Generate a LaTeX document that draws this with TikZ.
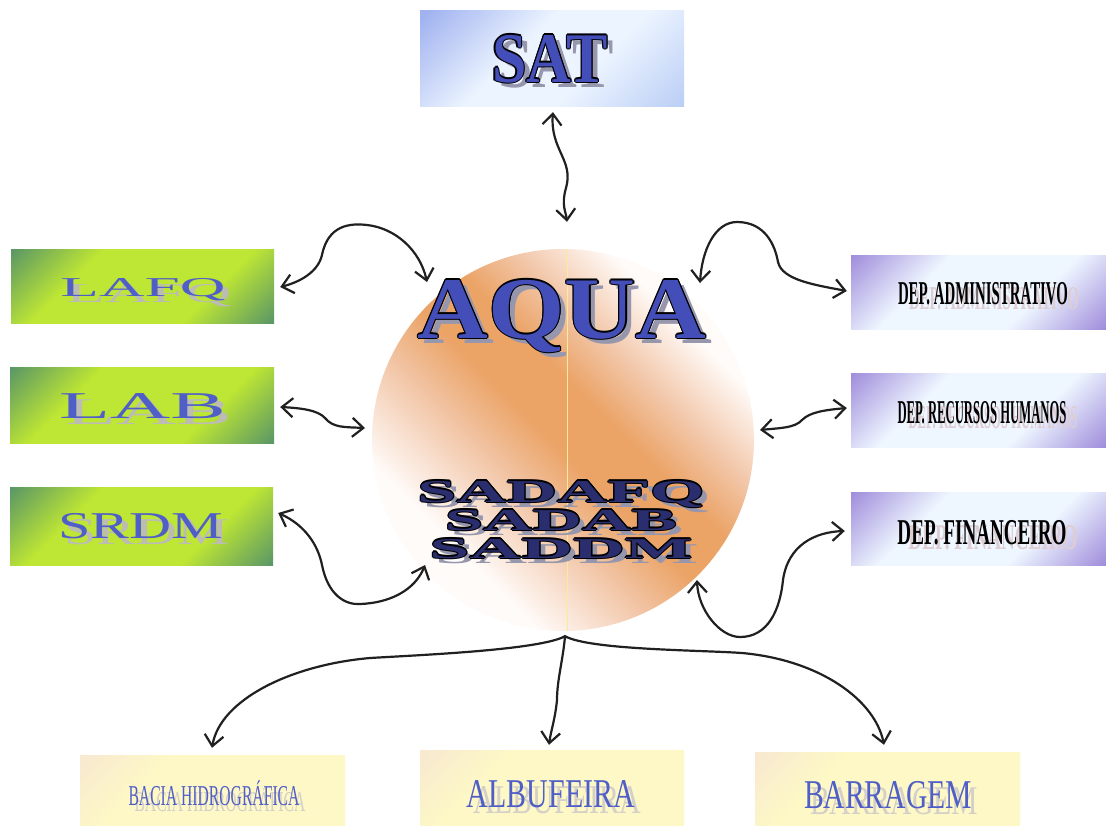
\documentclass[tikz,border=0pt]{standalone}
\usepackage{fontspec}
\setmainfont{Liberation Serif}
\usetikzlibrary{arrows.meta}

\definecolor{gdark}{RGB}{76,140,108}
\definecolor{glime}{RGB}{190,230,52}
\definecolor{pdark}{RGB}{150,128,215}
\definecolor{plight}{RGB}{238,246,255}
\definecolor{sblue}{RGB}{160,178,240}
\definecolor{slight}{RGB}{236,244,255}
\definecolor{sblue2}{RGB}{185,205,245}
\definecolor{ypale}{RGB}{253,248,198}
\definecolor{ypink}{RGB}{247,230,210}
\definecolor{owhite}{RGB}{255,251,249}
\definecolor{opeach}{RGB}{242,198,168}
\definecolor{oorange}{RGB}{235,163,102}
\definecolor{inkblue}{RGB}{80,94,200}
\definecolor{deepblue}{RGB}{68,78,185}
\definecolor{navy}{RGB}{42,46,110}
\definecolor{ghost}{RGB}{188,188,180}
\definecolor{ghostlight}{RGB}{212,208,200}
\definecolor{ghostblue}{RGB}{150,150,172}
\definecolor{ghostpink}{RGB}{222,206,212}
\definecolor{arrowink}{RGB}{32,32,32}
\definecolor{seam}{RGB}{250,236,150}

% diagonal fades: corners tinted, middle light
\pgfdeclarehorizontalshading{greenfade}{100bp}{color(0bp)=(gdark); color(12bp)=(gdark); color(34bp)=(glime); color(66bp)=(glime); color(88bp)=(gdark); color(100bp)=(gdark)}
\pgfdeclarehorizontalshading{violetfade}{100bp}{color(0bp)=(pdark); color(12bp)=(pdark); color(36bp)=(plight); color(64bp)=(plight); color(88bp)=(pdark); color(100bp)=(pdark)}
\pgfdeclarehorizontalshading{skyfade}{100bp}{color(0bp)=(sblue); color(16bp)=(sblue); color(42bp)=(slight); color(60bp)=(slight); color(86bp)=(sblue2); color(100bp)=(sblue2)}
\pgfdeclarehorizontalshading{creamfade}{100bp}{color(0bp)=(ypink); color(12bp)=(ypink); color(34bp)=(ypale); color(100bp)=(ypale)}
\pgfdeclarehorizontalshading{peachdisc}{100bp}{color(0bp)=(owhite); color(30bp)=(owhite); color(41bp)=(opeach); color(49bp)=(oorange); color(56bp)=(oorange); color(63bp)=(opeach); color(72bp)=(owhite); color(100bp)=(owhite)}

% text stretched to a given width and cap height
\newcommand\capfit[3]{\resizebox{#1}{#2}{\vphantom{A}\smash{#3}}}
% an extra copy of some lettering, shifted by (#1,#2)
\newcommand\layercopy[3]{\rlap{\kern#1\raisebox{#2}{#3}}}

% bold lettering with a dark rim and a grey drop shadow
\newcommand\rimtext[5]{%
  \def\glyphs{\capfit{#1}{#2}{\bfseries #3}}%
  \layercopy{6pt}{-5pt}{\color{#5}\glyphs}%
  \layercopy{-1.3pt}{0pt}{\glyphs}\layercopy{1.3pt}{0pt}{\glyphs}%
  \layercopy{0pt}{-1.3pt}{\glyphs}\layercopy{0pt}{1.3pt}{\glyphs}%
  \layercopy{-0.9pt}{-0.9pt}{\glyphs}\layercopy{0.9pt}{-0.9pt}{\glyphs}%
  \layercopy{-0.9pt}{0.9pt}{\glyphs}\layercopy{0.9pt}{0.9pt}{\glyphs}%
  {\color{#4}\glyphs}}

% plain lettering with a pale ghost behind it
\newcommand\ghosttext[7]{%
  \layercopy{#6}{#7}{\color{#5}\capfit{#1}{#2}{#3}}%
  {\color{#4}\capfit{#1}{#2}{#3}}}

\tikzset{
  box/.style={rectangle, inner sep=0pt, draw=none},
  greenbox/.style={box, shading=greenfade, shading angle=-45},
  violetbox/.style={box, shading=violetfade, shading angle=-45},
  skybox/.style={box, shading=skyfade, shading angle=-45},
  creambox/.style={box, shading=creamfade, shading angle=-45},
  txt/.style={inner sep=0pt, anchor=base, text=black},
  link/.style={draw=arrowink, line width=2.2pt, line cap=round, line join=round, <->},
  drop/.style={draw=arrowink, line width=2.2pt, line cap=round, line join=round, ->}
}

\begin{document}
\begin{tikzpicture}[x=1pt, y=-1pt, >={Straight Barb[length=11pt,width=19pt]}]
\useasboundingbox (0,0) rectangle (1106,825);
\fill[white] (0,0) rectangle (1106,825);

% boxes
\node[skybox, minimum width=264pt, minimum height=96pt] (sat) at (552,58) {};
\node[greenbox, minimum width=263pt, minimum height=74pt] (lafq) at (142.5,286) {};
\node[greenbox, minimum width=264pt, minimum height=76pt] (lab) at (142,405) {};
\node[greenbox, minimum width=263pt, minimum height=78pt] (srdm) at (141.5,526) {};
\node[violetbox, minimum width=255pt, minimum height=74pt] (dadm) at (978.5,292) {};
\node[violetbox, minimum width=255pt, minimum height=74pt] (drh) at (978.5,410) {};
\node[violetbox, minimum width=255pt, minimum height=73pt] (dfin) at (978.5,528.5) {};
\node[creambox, minimum width=265pt, minimum height=70pt] (bacia) at (212.5,790) {};
\node[creambox, minimum width=264pt, minimum height=75pt] (albu) at (552,787.5) {};
\node[creambox, minimum width=265pt, minimum height=73pt] (barr) at (887.5,788.5) {};

% central disc
\node[circle, minimum size=382pt, inner sep=0pt, draw=none, shading=peachdisc, shading angle=45] (disc) at (563,440) {};
\begin{scope}
  \clip (563,440) circle (191pt);
  \draw[seam, line width=0.8pt] (567,240) -- (567,640);
\end{scope}

% lettering
\node[txt] (sat-text) at (550,82) {\rimtext{116pt}{47pt}{SAT}{deepblue}{ghostblue}};
\node[txt] (aqua-text) at (562,338) {\rimtext{289pt}{58pt}{AQUA}{deepblue}{ghostblue}};
\node[txt] (sadafq-text) at (561,502) {\rimtext{287pt}{21pt}{SADAFQ}{navy}{ghostblue}};
\node[txt] (sadab-text) at (561,530) {\rimtext{232pt}{20pt}{SADAB}{navy}{ghostblue}};
\node[txt] (saddm-text) at (561,558) {\rimtext{263pt}{19pt}{SADDM}{navy}{ghostblue}};

\node[txt] (lafq-text) at (143,296) {\ghosttext{165pt}{18pt}{LAFQ}{inkblue}{ghost}{6pt}{-6pt}};
\node[txt] (lab-text) at (143,418) {\ghosttext{167pt}{25pt}{LAB}{inkblue}{ghost}{6pt}{-6pt}};
\node[txt] (srdm-text) at (141,538) {\ghosttext{165pt}{25pt}{SRDM}{inkblue}{ghost}{6pt}{-6pt}};

\node[txt] (dadm-text) at (983,304) {\ghosttext{170pt}{22pt}{\bfseries DEP. ADMINISTRATIVO}{black}{ghostpink}{11pt}{-5pt}};
\node[txt] (drh-text) at (982,423) {\ghosttext{169pt}{22pt}{\bfseries DEP. RECURSOS HUMANOS}{black}{ghostpink}{11pt}{-5pt}};
\node[txt] (dfin-text) at (982,544) {\ghosttext{169pt}{24pt}{\bfseries DEP. FINANCEIRO}{black}{ghostpink}{11pt}{-5pt}};

\node[txt] (bacia-text) at (214,805) {\ghosttext{171pt}{19pt}{BACIA HIDROGRÁFICA}{inkblue}{ghostlight}{6pt}{-6pt}};
\node[txt] (albu-text) at (551,807) {\ghosttext{168pt}{27pt}{ALBUFEIRA}{inkblue}{ghostlight}{6pt}{-6pt}};
\node[txt] (barr-text) at (888,808) {\ghosttext{168pt}{27pt}{BARRAGEM}{inkblue}{ghostlight}{6pt}{-6pt}};

% connector ends
\coordinate (satA) at ([shift={(1,6)}]sat.south);
\coordinate (discA) at ([shift={(4,-27)}]disc.north);
\coordinate (lafqA) at ([shift={(6,1)}]lafq.east);
\coordinate (discB) at ([shift={(-136,-158)}]disc.center);
\coordinate (dadmA) at ([shift={(-4,-1)}]dadm.west);
\coordinate (discC) at ([shift={(137,-157)}]disc.center);
\coordinate (labA) at ([shift={(6,2)}]lab.east);
\coordinate (discD) at ([shift={(-198,-12)}]disc.center);
\coordinate (drhA) at ([shift={(-4,-2)}]drh.west);
\coordinate (discE) at ([shift={(197,-10)}]disc.center);
\coordinate (srdmA) at ([shift={(5,-13)}]srdm.east);
\coordinate (discF) at ([shift={(-138,125)}]disc.center);
\coordinate (dfinA) at ([shift={(-6,2.5)}]dfin.west);
\coordinate (discG) at ([shift={(134,140)}]disc.center);
\coordinate (fork) at ([shift={(2,5)}]disc.south);
\coordinate (baciaA) at ([shift={(-0.5,-7)}]bacia.north);
\coordinate (albuA) at ([shift={(-3,-5)}]albu.north);
\coordinate (barrA) at ([shift={(-3.5,-7)}]barr.north);

% connectors
\draw[link] (satA) .. controls (550,150) and (574,160) .. (566,188) .. controls (561,205) and (566,212) .. (discA);
\draw[link] (lafqA) .. controls (300,282) and (318,272) .. (322,255) .. controls (328,225) and (350,223) .. (367,225) .. controls (395,228) and (420,250) .. (discB);
\draw[link] (discC) .. controls (702,250) and (715,222) .. (737,222) .. controls (765,222) and (775,245) .. (778,262) .. controls (782,280) and (815,285) .. (dadmA);
\draw[link] (labA) .. controls (300,408) and (318,410) .. (325,418) .. controls (333,428) and (345,427) .. (discD);
\draw[link] (discE) .. controls (780,428) and (795,428) .. (802,420) .. controls (810,412) and (825,410) .. (drhA);
\draw[link] (srdmA) .. controls (305,525) and (318,545) .. (322,565) .. controls (328,595) and (345,605) .. (360,604) .. controls (390,603) and (415,590) .. (discF);
\draw[link] (discG) .. controls (698,610) and (720,637) .. (740,637) .. controls (768,637) and (780,610) .. (783,580) .. controls (788,545) and (815,532) .. (dfinA);

\draw[drop] (fork) .. controls (540,650) and (420,655) .. (370,658) .. controls (290,665) and (220,700) .. (baciaA);
\draw[drop] (fork) .. controls (563,660) and (557,680) .. (557,700) .. controls (555,720) and (551,730) .. (albuA);
\draw[drop] (fork) .. controls (590,650) and (700,650) .. (742,653) .. controls (820,660) and (875,700) .. (barrA);
\end{tikzpicture}
\end{document}
